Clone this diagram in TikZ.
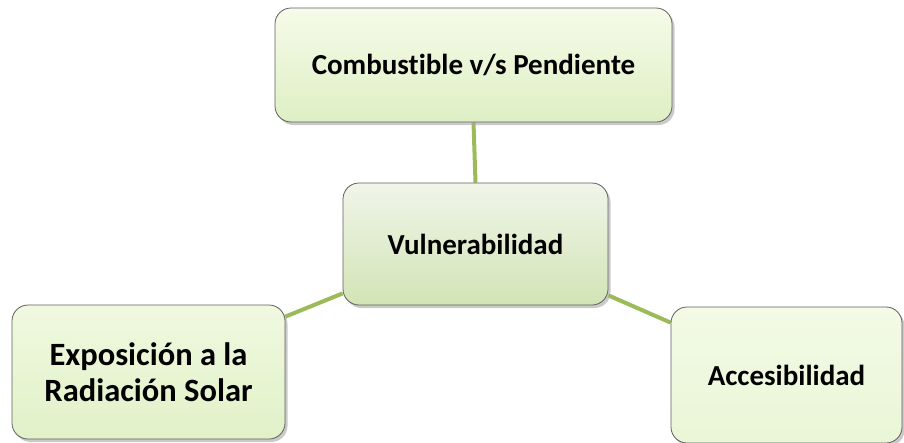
\documentclass[tikz,border=0pt]{standalone}
\usepackage{fontspec}
\setmainfont{Carlito}[Ligatures=NoCommon]
\usetikzlibrary{shadows,backgrounds}
\definecolor{linkgreen}{RGB}{155,187,89}
\definecolor{boxborder}{RGB}{95,95,95}
\tikzset{
  box/.style={draw=boxborder, line width=0.8pt, rounded corners=16pt, align=center,
    font=\bfseries\fontsize{29}{35}\selectfont, inner sep=0pt,
    drop shadow={shadow xshift=2.5pt, shadow yshift=-3pt, fill=black!35, opacity=0.6}},
  link/.style={draw=linkgreen, line width=4pt}
}
\begin{document}
\begin{tikzpicture}[x=1pt,y=-1pt]
\useasboundingbox (0,0) rectangle (904,442);
\clip (0,0) rectangle (904,442);
\node[box, minimum width=397pt, minimum height=114pt, top color={rgb,255:red,246;green,251;blue,233}, bottom color={rgb,255:red,222;green,239;blue,196}] (top) at (473.5,65) {Combustible v/s Pendiente};
\node[box, minimum width=265pt, minimum height=122pt, top color={rgb,255:red,240;green,245;blue,233}, bottom color={rgb,255:red,210;green,228;blue,182}] (mid) at (475.5,244) {Vulnerabilidad};
\node[box, minimum width=273pt, minimum height=134pt, top color={rgb,255:red,240;green,249;blue,224}, bottom color={rgb,255:red,225;green,241;blue,200}, font=\bfseries\fontsize{32.5}{36}\selectfont] (left) at (148.5,372) {Exposición a la\\Radiación Solar};
\node[box, minimum width=231pt, minimum height=136pt, top color={rgb,255:red,243;green,250;blue,230}, bottom color={rgb,255:red,233;green,246;blue,214}] (right) at (786.5,375) {Accesibilidad};
\begin{pgfonlayer}{background}
\path[link] (top.south) -- (mid.north);
\path[link] ([yshift=12pt]mid.south west) -- ([yshift=-12pt]left.north east);
\path[link] ([yshift=10pt]mid.south east) -- ([yshift=-16pt]right.north west);
\end{pgfonlayer}
\end{tikzpicture}
\end{document}
